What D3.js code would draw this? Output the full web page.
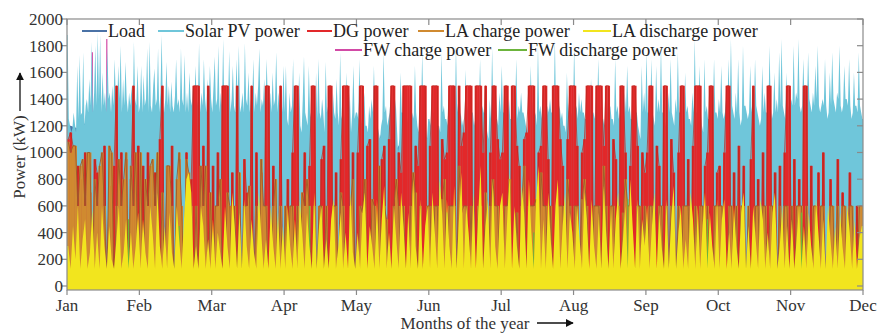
<!DOCTYPE html>
<html><head><meta charset="utf-8">
<script src="https://cdn.jsdelivr.net/npm/d3@7/dist/d3.min.js"></script>
<style>body{margin:0;background:#fff}svg{display:block}</style>
</head><body><div id="chart"></div>
<script>
const monthLabels = ["Jan","Feb","Mar","Apr","May","Jun","Jul","Aug","Sep","Oct","Nov","Dec"];
const yTicks = [0,200,400,600,800,1000,1200,1400,1600,1800,2000];
const seriesNames = ["Load","Solar PV power","DG power","LA charge power","LA discharge power","FW charge power","FW discharge power"];

const load = [1200,1180,1220,1150,1100,1180,1050,1120,1000,1080,1100,1050,1150,1000,1080,1120,1050,980,1100,1050,
1000,1080,1150,1020,1100,1050,980,1120,1060,1000,1100,1040,1150,1080,1000,1120,1050,1090,1010,1130,
1050,1100,1000,1150,1070,1020,1110,1060,1000,1120,1080,1030,1150,1060,1000,1100,1050,1120,1020,1090,
1060,1000,1130,1070,1020,1110,1050,1150,1000,1080,1120,1040,1100,1060,1150,1010,1090,1050,1130,1070,
1100,1150,1080,1200,1050,1120,1180,1060,1100,1150,1080,1200,1120,1050,1180,1100,1220,1060,1150,1100,
1180,1120,1200,1080,1150,1220,1100,1170,1130,1200];

const solar = [
1880,1250,1200,1150,1180,1300,1220,1150,1650,1250,1730,1280,1300,1750,1200,1350,1400,1300,1550,1350,
1830,1300,1450,1800,1350,1900,1400,1880,1300,1600,1350,1450,1300,1780,1400,1450,1300,1500,1350,1700,
1400,1300,1650,1400,1800,1300,1550,1350,1680,1400,1300,1450,1350,1500,1300,1830,1400,1350,1650,1300,
1350,1650,1300,1580,1350,1400,1780,1300,1830,1350,1300,1500,1630,1350,1400,1780,1300,1450,1880,1350,
1300,1400,1680,1350,1500,1300,1530,1350,1300,1420,1700,1350,1400,1300,1780,1400,1350,1730,1300,1450,
1300,1600,1400,1350,1500,1300,1650,1400,1350,1820,1300,1450,1350,1700,1400,1300,1550,1350,1650,1400,
1300,1500,1720,1350,1400,1800,1300,1450,1350,1850,1300,1400,1500,1350,1760,1300,1400,1650,1350,1300,
1700,1400,1800,1300,1350,1450,1300,1820,1400,1350,1600,1300,1400,1350,1700,1300,1450,1350,1500,1780,
1300,1400,1350,1550,1300,1700,1400,1350,1450,1300,1600,1350,1400,1750,1300,1450,1350,1500,1300,1650,
1300,1650,1250,1200,1450,1300,1350,1700,1150,1050,1350,1300,1600,1200,1150,1400,1720,1300,1250,1200,
1650,1300,1250,1450,1300,1100,1600,1250,1700,1300,1250,1400,1300,1150,1680,1300,1350,1250,1100,1200,
1450,1300,1250,1550,1300,1200,1750,1250,1300,1350,1200,1600,1300,1250,1450,1150,1300,1650,1250,1300,
1300,1250,1700,1200,1250,1300,1450,1200,1200,1150,1350,1250,1400,1300,1650,1250,1300,1200,1150,1100,
1200,1250,1750,1300,1350,1200,1250,1300,1450,1200,1300,1250,1400,1200,1000,1100,1600,1300,1300,1250,
1350,1200,1250,1300,1450,1200,1300,1250,1650,1300,1200,1150,1350,1250,1750,1300,1300,1200,1100,1250,
1250,1200,1450,1300,1300,1250,1400,1200,1200,1150,1750,1300,1350,1250,1250,1200,1400,1300,1500,1250,
1300,1200,1800,1300,1400,1250,1300,1200,1250,1150,1620,1300,1350,1250,1450,1300,1300,1200,1250,1150,
1400,1300,1700,1250,1350,1300,1300,1200,1150,1100,1400,1250,1780,1300,1350,1250,1250,1200,1450,1300,
1650,1300,1300,1250,1450,1300,1400,1250,1250,1200,1350,1300,1700,1250,1350,1300,1450,1300,1300,1250,
1200,1150,1250,1200,1650,1300,1400,1250,1300,1200,1800,1300,1350,1250,1450,1300,1250,1200,1350,1300,
1400,1300,1300,1250,1850,1300,1450,1300,1350,1250,1300,1200,1200,1150,1600,1300,1400,1250,1300,1250,
1800,1300,1350,1250,1450,1300,1400,1300,1300,1250,1250,1200,1400,1300,1550,1300,1300,1250,1400,1300,
1700,1300,1350,1250,1250,1200,1300,1250,1400,1300,1350,1250,1250,1200,1700,1300,1350,1250,1300,1200,
1050,1100,1450,1300,1650,1300,1350,1250,1250,1200,1400,1300,1300,1200,1150,1100,1650,1300,1450,1300,
1750,1300,1300,1250,1700,1300,1250,1200,1650,1300,1400,1300,1800,1300,1300,1250,1200,1150,1450,1300,
1700,1300,1250,1200,1400,1300,1750,1300,1300,1250,1100,1150,1600,1300,1350,1250,1250,1200,1450,1300,
1850,1300,1300,1250,1650,1300,1200,1150,1700,1300,1350,1250,1250,1200,1450,1300,1700,1300,1300,1250,
1400,1300,1650,1300,1250,1300,1400,1300,1700,1300,1850,1350,1300,1250,1450,1300,1700,1300,1200,1250,
1800,1350,1350,1300,1250,1300,1650,1300,1400,1300,1700,1350,1300,1250,1200,1250,1650,1300,1450,1300,
1300,1250,1800,1350,1250,1300,1600,1300,1400,1300,1750,1350,1850,1350,1300,1250,1600,1300,1350,1300,
1400,1350,1800,1350,1450,1400,1850,1350,1300,1350,1700,1400,1500,1350,1750,1400,1350,1300,1450,1350,
1650,1400,1800,1350,1300,1350,1400,1350,1700,1350,1250,1300,1600,1350,1750,1400,1350,1300,1450,1400,
1800,1350,1300,1350,1650,1400,1400,1350,1700,1350,1250,1300,1600,1350,1350,1300,1750,1350,1300,1250];

const dg = [
1100,1150,1050,0,900,800,0,1000,0,700,0,950,850,0,0,1050,0,750,0,900,1500,0,1000,0,950,0,800,1500,0,1050,
0,900,0,1000,0,0,850,0,1100,1500,0,900,0,1050,0,0,950,0,0,1000,0,800,1500,1500,1500,0,1050,0,1500,0,
900,0,1000,0,1500,1500,1500,0,850,0,1500,0,0,950,700,0,1500,0,1000,0,850,0,1500,1500,0,900,0,0,1500,0,
0,800,0,1000,1500,1500,0,0,1000,0,900,1500,1500,0,0,950,1050,0,1500,1500,0,850,0,950,1500,1500,1500,0,1000,0,
1000,1500,1500,0,1050,1100,0,1500,1500,0,950,1050,0,1100,1500,1500,0,1000,850,1500,1500,1500,1500,0,1050,900,1500,1500,1500,0,
1050,1500,1500,1500,0,1100,950,1000,1500,1500,1500,0,1500,1050,1150,1500,1500,1500,0,1500,1500,1500,1000,1500,0,1000,1500,1500,1100,950,
1000,1500,1500,0,1500,1500,1050,900,0,1100,1150,1500,1500,1500,0,1000,1050,1500,1500,950,0,1500,1500,1500,1100,900,0,1100,1500,1500,
1500,1050,0,1000,1100,1500,1500,1500,0,1500,1500,1500,1050,1500,1500,0,1100,950,0,1500,1500,1000,0,900,1500,1500,1050,0,1000,850,
1000,1500,1500,0,1050,900,0,1500,1500,0,1100,850,0,1000,1500,1500,0,950,0,1050,1500,1500,1500,0,900,1000,1500,1500,0,850,
900,0,1000,1500,1500,0,850,0,1050,0,900,0,0,950,1500,0,800,0,1000,0,1500,1500,0,850,0,900,0,1000,1500,1500,
0,950,0,800,0,1500,1500,0,900,0,0,850,0,1000,0,0,800,0,0,950,0,700,0,0,850,0,0,600,0,0];

const laCharge = [
1080,1000,1050,1050,600,900,950,600,1000,1000,0,800,600,900,1000,600,0,1050,1000,0,600,950,600,800,1000,0,900,600,1000,0,
1000,0,800,600,900,950,600,1000,0,700,0,900,900,600,0,800,1000,600,0,950,850,600,0,600,0,900,600,900,0,700,
0,600,600,800,0,0,700,600,0,600,0,850,0,600,600,750,0,0,600,0,950,600,600,0,0,600,800,0,600,0,
600,0,600,600,0,600,0,700,600,800,600,0,600,0,600,600,0,600,0,0,600,600,0,700,600,0,0,600,800,0,
0,600,550,800,0,0,650,600,0,900,0,600,500,0,0,600,800,600,0,600,0,0,600,850,700,0,600,0,0,600,
600,0,600,600,0,650,800,0,600,600,600,0,900,550,600,600,0,600,0,0,600,600,0,700,0,600,800,600,600,0,
0,600,600,800,0,0,550,0,600,900,0,600,600,600,650,0,850,600,600,0,600,0,0,600,600,600,0,800,600,0,
600,600,0,650,800,600,0,0,600,600,600,0,900,600,0,600,600,0,600,0,550,800,600,600,0,0,600,600,0,600,
0,600,600,0,0,600,600,0,600,0,600,600,0,600,0,600,600,600,0,0,600,0,600,600,0,600,0,0,600,600,
600,600,0,0,600,600,0,600,0,600,600,0,600,0,0,600,600,0,600,600,0,600,600,0,0,600,0,600,600,0,
600,0,600,600,600,0,600,0,0,600,600,0,600,600,0,0,600,600,0,600,0,600,600,0,600,600,0,0,600,600];

const laDischarge = [
300,130,450,200,600,130,350,500,130,250,580,130,400,130,600,300,130,450,200,130,350,600,130,250,500,130,400,130,300,550,
130,500,250,130,600,400,130,700,300,130,450,130,550,250,130,600,350,130,500,800,850,700,130,300,130,600,450,130,350,130,
500,130,400,250,130,600,300,130,700,450,130,550,130,650,300,130,500,250,130,700,400,130,350,130,600,300,130,550,130,450,
130,600,300,130,500,130,650,400,130,550,300,130,700,130,450,600,130,350,130,500,650,130,300,550,130,400,130,700,250,130,
400,130,550,700,130,450,300,130,650,130,500,750,130,400,130,600,350,130,700,450,130,550,130,800,300,130,650,130,450,600,
130,700,400,130,800,550,130,650,300,130,750,130,500,850,130,600,400,130,700,130,550,900,130,450,650,130,800,300,130,600,
700,130,500,850,130,600,300,130,750,550,130,800,400,130,650,900,130,500,130,700,350,130,600,800,130,450,700,130,550,400,
130,600,350,130,700,500,130,650,300,130,550,130,750,400,130,600,130,500,700,130,350,600,130,800,450,130,650,130,500,300,
600,130,450,700,130,550,300,130,650,130,500,750,130,400,600,130,350,130,700,500,130,600,130,450,700,130,550,300,130,650,
130,500,650,130,400,130,600,300,130,550,700,130,450,130,600,350,130,650,500,130,400,130,550,700,130,300,600,130,450,130,
500,130,350,600,130,450,130,550,300,130,650,400,130,500,130,600,350,130,450,130,550,300,130,600,400,130,500,130,350,450];

const fwCharge = [0,0,0,1750,0,1850,0,0,0,0,0,0,0,0,0,0,0,0,0,0,350,0,0,0,0,0,0,0,0,0,
0,0,0,0,0,0,0,0,0,0,0,0,0,0,0,400,0,0,0,0,0,0,0,0,0,0,0,0,0,0,
0,0,0,0,0,0,0,0,0,0,300,0,0,0,0,0,0,0,0,0,0,0,0,0,0,0,0,0,0,0,
0,0,0,0,0,450,0,0,0,0,0,0,0,0,0,0,0,0,0,0];

const fwDischarge = [0,0,0,0,0,0,0,0,500,0,0,0,0,0,0,450,0,0,0,0,0,0,0,0,0,0,0,0,0,0,
0,0,0,600,0,0,0,0,0,0,0,0,0,0,0,0,0,0,0,0,0,0,550,0,0,0,0,0,0,0,
0,0,0,0,400,0,0,0,0,0,0,0,0,0,0,0,0,650,0,0,0,0,0,0,0,0,0,0,500,0,
0,0,0,0,0,0,0,0,0,0,0,550,0,0,0,0,0,0,0,0];

const colors = {load:"#4a72a6", solar:"#6fc6da", dg:"#e2282a", laC:"#d08a30", laD:"#f2e51e", fwC:"#d24aa6", fwD:"#6cb43c"};

const W = 880, H = 333;
const m = {left:67, right:863, top:19, bottom:290};
const svg = d3.select("#chart").append("svg").attr("width",W).attr("height",H)
  .attr("font-family","'Liberation Serif', 'Times New Roman', Times, serif");

const x = d3.scaleLinear().domain([0,11]).range([m.left,m.right]);
const y = d3.scaleLinear().domain([-30,2000]).range([m.bottom,m.top]);

svg.append("clipPath").attr("id","clip").append("rect")
  .attr("x",m.left).attr("y",m.top).attr("width",m.right-m.left).attr("height",m.bottom-m.top);
const plot = svg.append("g").attr("clip-path","url(#clip)");

const tc = (i,n)=>x(11*(i+0.5)/n);   // centre of slot i
function bars(arr, color){
  const n = arr.length;
  plot.append("g").selectAll("rect").data(arr).join("rect")
    .attr("x",(d,i)=>x(11*i/n))
    .attr("width",(d,i)=>x(11*(i+1)/n)-x(11*i/n)+0.3)
    .attr("y",d=>y(d)).attr("height",d=>d>0?y(0)-y(d)+4:0)
    .attr("fill",color);
}
function area(arr, color){
  const n = arr.length;
  const pts = [arr[0]].concat(arr, [arr[n-1]]);
  const gen = d3.area()
    .x((d,i)=> i===0 ? x(0)-2 : (i===pts.length-1 ? x(11)+2 : tc(i-1,n)))
    .y0(y(-30)).y1(d=>y(d));
  plot.append("path").attr("d",gen(pts)).attr("fill",color);
}
function line(arr, color, w){
  const n = arr.length;
  const gen = d3.line().x((d,i)=>tc(i,n)).y(d=>y(d));
  plot.append("path").attr("d",gen(arr)).attr("fill","none").attr("stroke",color).attr("stroke-width",w);
}
function spikes(arr, color){
  const n = arr.length;
  plot.append("g").selectAll("line").data(arr.map((v,i)=>({v,i})).filter(d=>d.v>0)).join("line")
    .attr("x1",d=>tc(d.i,n)).attr("x2",d=>tc(d.i,n))
    .attr("y1",y(0)).attr("y2",d=>y(d.v))
    .attr("stroke",color).attr("stroke-width",1.2);
}

area(load, colors.load);
spikes(fwCharge, colors.fwC);
area(solar, colors.solar);
bars(dg, colors.dg);
line(dg, "#b8281e", 0.7);
bars(laCharge, colors.laC);
line(laCharge, "#9c5a2c", 0.9);
spikes(fwDischarge, colors.fwD);
area(laDischarge, colors.laD);

// frame
const axisColor = "#8a8a8a";
svg.append("rect").attr("x",m.left).attr("y",m.top).attr("width",m.right-m.left).attr("height",m.bottom-m.top)
  .attr("fill","none").attr("stroke",axisColor).attr("stroke-width",1.2);

// x axis
const monthPos = d3.range(12);
const xg = svg.append("g");
xg.selectAll("line.b").data(monthPos).join("line").attr("class","b")
  .attr("x1",d=>x(d)).attr("x2",d=>x(d)).attr("y1",m.bottom).attr("y2",m.bottom+5)
  .attr("stroke",axisColor).attr("stroke-width",1.2);
xg.selectAll("line.t").data(monthPos).join("line").attr("class","t")
  .attr("x1",d=>x(d)).attr("x2",d=>x(d)).attr("y1",m.top).attr("y2",m.top+6)
  .attr("stroke",axisColor).attr("stroke-width",1.2);
xg.selectAll("text").data(monthPos).join("text")
  .attr("x",d=>x(d)).attr("y",311).attr("text-anchor","middle")
  .attr("font-size",17).attr("fill","#333").text(d=>monthLabels[d]);

// y axis
const yg = svg.append("g");
yg.selectAll("line.l").data(yTicks).join("line").attr("class","l")
  .attr("x1",m.left-5).attr("x2",m.left).attr("y1",d=>y(d)).attr("y2",d=>y(d))
  .attr("stroke",axisColor).attr("stroke-width",1.2);
yg.selectAll("line.r").data(yTicks).join("line").attr("class","r")
  .attr("x1",m.right-6).attr("x2",m.right).attr("y1",d=>y(d)).attr("y2",d=>y(d))
  .attr("stroke",axisColor).attr("stroke-width",1.2);
yg.selectAll("text").data(yTicks).join("text")
  .attr("x",m.left-4).attr("y",d=>y(d)).attr("dy","0.35em").attr("text-anchor","end")
  .attr("font-size",17).attr("fill","#333").text(d=>d);

// axis titles
svg.append("text").attr("transform","translate(25,157) rotate(-90)").attr("text-anchor","middle")
  .attr("font-size",17).attr("fill","#333").text("Power (kW)");
svg.append("defs").append("marker").attr("id","arr").attr("viewBox","0 0 10 10").attr("refX",9).attr("refY",5)
  .attr("markerWidth",6).attr("markerHeight",6).attr("orient","auto")
  .append("path").attr("d","M0,0L10,5L0,10z").attr("fill","#111");
svg.append("line").attr("x1",20).attr("x2",20).attr("y1",111).attr("y2",73)
  .attr("stroke","#111").attr("stroke-width",1.3).attr("marker-end","url(#arr)");
svg.append("text").attr("x",465).attr("y",329).attr("text-anchor","middle")
  .attr("font-size",17).attr("fill","#333").text("Months of the year");
svg.append("line").attr("x1",537).attr("x2",573).attr("y1",323).attr("y2",323)
  .attr("stroke","#111").attr("stroke-width",1.3).attr("marker-end","url(#arr)");

// legend
const legendItems = [
  {name:seriesNames[0], c:colors.load, x0:82, x1:107, row:0},
  {name:seriesNames[1], c:colors.solar, x0:158, x1:184, row:0},
  {name:seriesNames[2], c:colors.dg, x0:307, x1:332, row:0},
  {name:seriesNames[3], c:colors.laC, x0:418, x1:444, row:0},
  {name:seriesNames[4], c:colors.laD, x0:583, x1:611, row:0},
  {name:seriesNames[5], c:colors.fwC, x0:335, x1:362, row:1},
  {name:seriesNames[6], c:colors.fwD, x0:498, x1:527, row:1}
];
const lg = svg.append("g");
legendItems.forEach(it=>{
  const ly = it.row===0 ? 31 : 50;
  lg.append("line").attr("x1",it.x0).attr("x2",it.x1).attr("y1",ly).attr("y2",ly)
    .attr("stroke",it.c).attr("stroke-width",2);
  lg.append("text").attr("x",it.x1+1).attr("y",ly+6).attr("font-size",18).attr("fill","#222").text(it.name);
});
</script></body></html>
